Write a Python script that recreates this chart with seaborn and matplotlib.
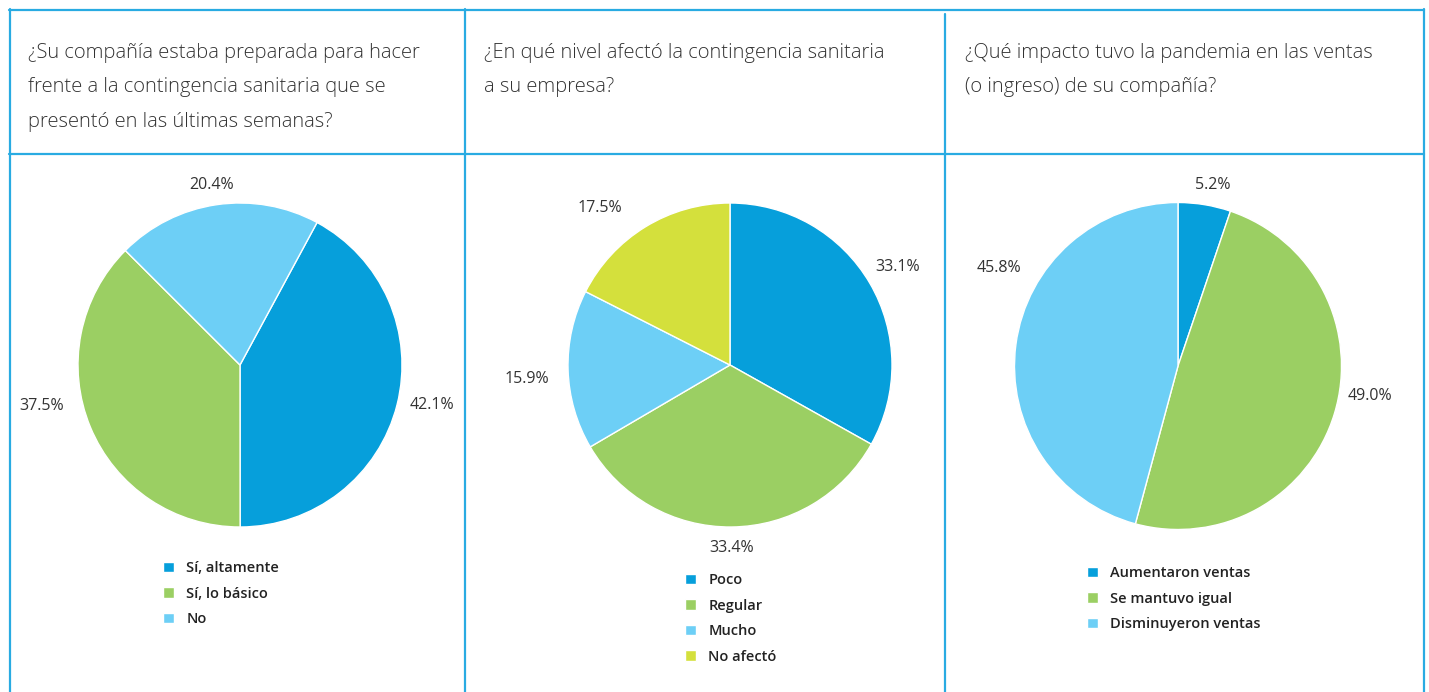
import matplotlib
matplotlib.use("Agg")
import matplotlib.pyplot as plt
from matplotlib.lines import Line2D
import numpy as np
import seaborn as sns

sns.set_theme(style="white")
plt.rcParams['font.family'] = ['Open Sans', 'DejaVu Sans']

# data
titles = ["¿Su compañía estaba preparada para hacer\nfrente a la contingencia sanitaria que se\npresentó en las últimas semanas?",
          "¿En qué nivel afectó la contingencia sanitaria\na su empresa?",
          "¿Qué impacto tuvo la pandemia en las ventas\n(o ingreso) de su compañía?"]
labels1 = ["Sí, altamente", "Sí, lo básico", "No"]
values1 = [42.1, 37.5, 20.4]
labels2 = ["Poco", "Regular", "Mucho", "No afectó"]
values2 = [33.1, 33.4, 15.9, 17.5]
labels3 = ["Aumentaron ventas", "Se mantuvo igual", "Disminuyeron ventas"]
values3 = [5.2, 49.0, 45.8]

pal = sns.color_palette(["#069FDB", "#9BCF63", "#6DCFF6", "#D4E03C"])
line_col = "#29ABE2"
txt_col = "#333333"

W, H = 1429, 692
fig = plt.figure(figsize=(W / 100, H / 100), dpi=100)
fig.patch.set_facecolor("white")

# frame lines (pixel coords from top-left)
def hline(y, x0, x1):
    fig.add_artist(Line2D([x0 / W, x1 / W], [1 - y / H, 1 - y / H], color=line_col, lw=1.6))

def vline(x, y0, y1):
    fig.add_artist(Line2D([x / W, x / W], [1 - y0 / H, 1 - y1 / H], color=line_col, lw=1.6))

hline(9.5, 9, 1424)
hline(153.5, 9, 1424)
vline(9.5, 9, 692)
vline(1423.5, 9, 692)
vline(465, 9, 692)
vline(945, 14, 692)

# titles
for tx, t in zip([28, 484, 965], titles):
    fig.text(tx / W, 1 - 43 / H, t, ha="left", va="top", fontsize=14.5,
             color=txt_col, linespacing=1.95, fontweight="light")

# (center x, center y, radius, values, labels, start angle,
#  label angle shift, label distance, legend anchor)
pies = [
    (240, 365, 162, values1, labels1, 61.6, [2.4, -11, 0.5], [1.21, 1.25, 1.125], (163, 561)),
    (730, 365, 162, values2, labels2, 90, [0, 0, 2.2, 8], [1.2, 1.13, 1.257, 1.26], (685, 573)),
    (1178, 366, 163.5, values3, labels3, 90, [-1.4, 8, -21], [1.125, 1.19, 1.25], (1087, 566)),
]

for cx, cy, R, vals, labs, start, shifts, dists, (lx, ly) in pies:
    ext = 1.05
    size = 2 * R * ext
    ax = fig.add_axes([(cx - size / 2) / W, (H - cy - size / 2) / H, size / W, size / H])
    wedges, _ = ax.pie(vals, colors=pal[:len(vals)], startangle=start, counterclock=False,
                       wedgeprops=dict(edgecolor="white", linewidth=1))
    for w, v, s, d in zip(wedges, vals, shifts, dists):
        ang = np.deg2rad((w.theta1 + w.theta2) / 2 + s)
        ax.text(d * np.cos(ang), d * np.sin(ang), f"{v:.1f}%", ha="center", va="center",
                fontsize=11.5, color=txt_col)
    ax.set_xlim(-ext, ext)
    ax.set_ylim(-ext, ext)
    ax.set_aspect("equal")
    ax.axis("off")
    leg = fig.legend(wedges, labs, loc="upper left", bbox_to_anchor=(lx / W, 1 - ly / H),
                     frameon=False, fontsize=10.5, handlelength=0.75, handleheight=0.75,
                     handletextpad=0.85, labelspacing=0.79, borderaxespad=0, borderpad=0)
    for t in leg.get_texts():
        t.set_color("#222222")
        t.set_fontweight("semibold")

fig.savefig("out.png", dpi=100, facecolor="white")
